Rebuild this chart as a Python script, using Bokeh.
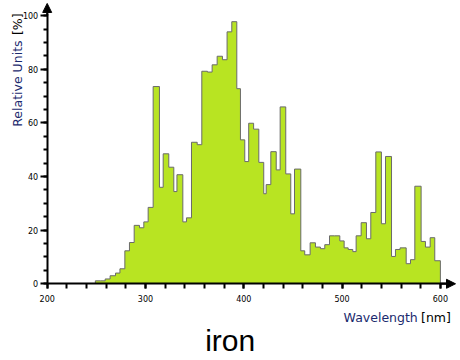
import math
from bokeh.plotting import figure
from bokeh.models import Range1d, FixedTicker, Label, Arrow, NormalHead
from bokeh.embed import file_html
from bokeh.resources import INLINE

# ---- data ----
bin_edges = [249, 254, 259, 264, 269.5, 274, 279, 283.7, 288.5, 293.9,
             298.3, 302.7, 307.8, 314.2, 318, 323.7, 328.8, 332, 338, 341.7,
             346.8, 352.6, 357.3, 363, 367.8, 372.9, 378.3, 383, 387.8, 392.9,
             396.6, 401, 405, 410, 415.3, 420.3, 422.8, 427.5, 433, 437,
             442.7, 447.8, 451.6, 458, 462, 467.5, 472.9, 478, 482.4, 487.2,
             492.3, 497.7, 502.1, 506.2, 510.9, 514.3, 519.4, 524.8, 529.2, 534.3,
             540, 544.2, 550.3, 554.3, 559, 565.2, 569.6, 574, 580.4, 584.8,
             589.6, 594.3, 600]
intensity = [1.1, 1.1, 1.8, 3.0, 4.0, 5.6, 12.3, 15.4, 21.8, 20.9,
             23.1, 28.5, 73.6, 36.0, 48.5, 43.5, 34.4, 40.7, 23.1, 24.6,
             52.8, 51.9, 79.3, 79.0, 81.7, 84.9, 83.6, 94.0, 97.8, 72.8,
             53.7, 45.6, 59.9, 57.7, 45.3, 33.6, 37.0, 49.3, 42.5, 66.0,
             41.0, 26.1, 42.8, 12.3, 10.8, 15.3, 13.7, 13.1, 14.6, 17.9,
             17.9, 16.0, 13.4, 12.8, 12.0, 17.9, 22.8, 16.8, 26.6, 49.2,
             22.4, 47.5, 10.2, 12.8, 13.4, 7.5, 9.0, 36.4, 15.8, 13.7,
             17.2, 8.6]
x_major_ticks = [200, 300, 400, 500, 600]
x_minor_ticks = list(range(200, 601, 20))
y_major_ticks = [0, 20, 40, 60, 80, 100]
y_minor_ticks = list(range(0, 101, 5))
title_text = "iron"
x_name, x_unit = "Wavelength", "[nm]"
y_name, y_unit = "Relative Units", "[%]"

FILL = "#b8e422"
EDGE = "#6a6a6a"
NAVY = "#1b2a6e"

X_MIN, X_MAX = 200, 600
Y_MIN, Y_MAX = 0, 100

# view window (frame spans the whole canvas; axes drawn at fixed locations)
VX0, VX1 = 152.5, 616.4
VY0, VY1 = -27.13, 105.7

p = figure(width=456, height=356, output_backend="svg", toolbar_location=None,
           x_range=Range1d(VX0, VX1), y_range=Range1d(VY0, VY1),
           min_border_left=0, min_border_right=0, min_border_top=0,
           min_border_bottom=0)
p.xgrid.visible = False
p.ygrid.visible = False
p.outline_line_color = None
p.background_fill_color = "white"
p.border_fill_color = "white"

# step outline built from the bins
sx, sy = [bin_edges[0]], [0]
for l, r, v in zip(bin_edges[:-1], bin_edges[1:], intensity):
    sx += [l, r]
    sy += [v, v]
sx.append(bin_edges[-1]); sy.append(0)
p.patch(sx, sy, fill_color=FILL, line_color=None)
p.line(sx, sy, line_color=EDGE, line_width=1)

# axes at fixed data locations
p.xaxis.fixed_location = Y_MIN
p.yaxis.fixed_location = X_MIN
p.xaxis.bounds = (X_MIN, 606)
p.yaxis.bounds = (Y_MIN, 101)
for ax in (p.xaxis, p.yaxis):
    ax.axis_line_width = 2
    ax.axis_line_color = "black"
    ax.major_tick_line_width = 2
    ax.minor_tick_line_width = 2
    ax.major_tick_line_color = "black"
    ax.minor_tick_line_color = "black"
    ax.major_tick_in = 0
    ax.minor_tick_in = 0
    ax.major_label_text_font = "DejaVu Sans"
    ax.major_label_text_font_size = "8px"
    ax.major_label_text_color = "black"

p.xaxis.ticker = FixedTicker(ticks=x_major_ticks, minor_ticks=x_minor_ticks)
p.yaxis.ticker = FixedTicker(ticks=y_major_ticks, minor_ticks=y_minor_ticks)
p.xaxis.major_tick_out = 5
p.xaxis.minor_tick_out = 5
p.xaxis.major_label_standoff = 6
p.yaxis.major_tick_out = 7
p.yaxis.minor_tick_out = 4
p.yaxis.major_label_standoff = 2

# axis arrows
p.add_layout(Arrow(end=NormalHead(size=9, fill_color="black", line_color="black"),
                   x_start=X_MAX, y_start=Y_MIN, x_end=615.4, y_end=Y_MIN,
                   line_color="black", line_width=2))
p.add_layout(Arrow(end=NormalHead(size=9, fill_color="black", line_color="black"),
                   x_start=X_MIN, y_start=Y_MAX, x_end=X_MIN, y_end=104.6,
                   line_color="black", line_width=2))

# axis labels
lab_font = "DejaVu Sans"
lab_size = "12.5px"
p.add_layout(Label(x=610.7, y=-12.46, text=x_unit, text_align="right",
                   text_baseline="alphabetic", text_font=lab_font,
                   text_font_size=lab_size, text_color="black"))
p.add_layout(Label(x=577.0, y=-12.46, text=x_name, text_align="right",
                   text_baseline="alphabetic", text_font=lab_font,
                   text_font_size=lab_size, text_color=NAVY))
p.add_layout(Label(x=169.8, y=100.86, text=y_unit, text_align="right",
                   text_baseline="middle", angle=math.pi / 2,
                   text_font=lab_font, text_font_size=lab_size,
                   text_color="black"))
p.add_layout(Label(x=169.8, y=90.8, text=y_name, text_align="right",
                   text_baseline="middle", angle=math.pi / 2,
                   text_font=lab_font, text_font_size=lab_size,
                   text_color=NAVY))

# title below the plot
p.add_layout(Label(x=386.2, y=-21.16, text=title_text, text_align="center",
                   text_baseline="alphabetic", text_font="Liberation Sans",
                   text_font_size="30px", text_color="black"))

open("out.html", "w").write(file_html(p, INLINE))
